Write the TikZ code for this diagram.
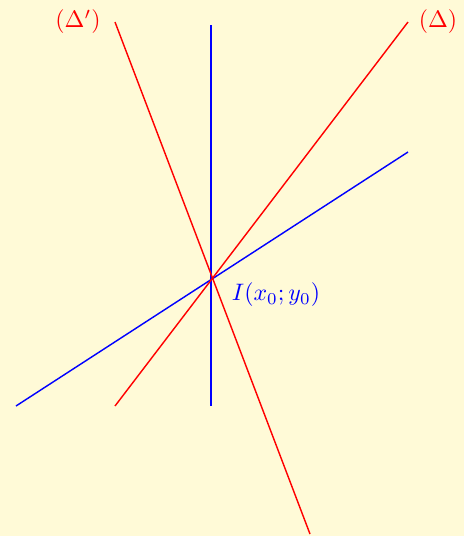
\documentclass[tikz,border=0pt]{standalone}
\definecolor{bgyellow}{RGB}{255,250,215}
\begin{document}
\begin{tikzpicture}[x=0.42pt,y=-0.42pt,
  redline/.style={red,line width=0.6pt},
  blueline/.style={blue,line width=0.6pt},
  lbl/.style={inner sep=0pt}]
\fill[bgyellow] (0,0) rectangle (464,536);
\useasboundingbox (0,0) rectangle (464,536);
\coordinate (I) at (211,278);
\coordinate (v1) at (211,25);
\coordinate (v2) at (211,406);
\coordinate (b1) at (16,406);
\coordinate (b2) at (408,152);
\coordinate (d1) at (115,406);
\coordinate (d2) at (408,22);
\coordinate (e1) at (115,22);
\coordinate (e2) at (310,534);
\draw[blueline] (v1) -- (v2);
\draw[blueline] (b1) -- (b2);
\draw[redline] (d1) -- (d2);
\draw[redline] (e1) -- (e2);
\node[lbl,red] (ld) at (438,22) {$(\Delta)$};
\node[lbl,red] (lde) at (78,22) {$(\Delta')$};
\node[lbl,blue] (li) at (276,295) {$I(x_0;y_0)$};
\end{tikzpicture}
\end{document}
